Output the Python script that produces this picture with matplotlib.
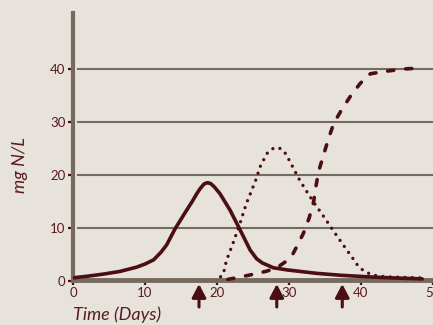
import matplotlib
matplotlib.use("Agg")
import matplotlib.pyplot as plt

# ---- data ----
solid_x = [0, 2, 4.2, 6.5, 8.8, 10, 11.2, 12.2, 13, 14.2, 15.8, 16.6, 17.2, 17.7, 18.2, 18.65,
           19.1, 19.6, 20.4, 21.8, 23.0, 24.6, 25.5, 26.3, 27.0, 27.8, 29.7, 33.8, 37, 40.8, 44, 48.5]
solid_y = [0.6, 0.9, 1.3, 1.8, 2.6, 3.2, 4.0, 5.4, 6.8, 9.9, 13.4, 15.1, 16.5, 17.5, 18.3, 18.55,
           18.4, 17.8, 16.5, 13.4, 10.2, 5.85, 4.2, 3.4, 3.0, 2.5, 2.1, 1.45, 1.1, 0.8, 0.6, 0.4]

dotted_x = [20.5, 20.9, 21.3, 22.3, 23.2, 24.1, 24.7, 25.4, 26.0, 26.9, 27.6, 28.3, 29.0,
            29.6, 30.1, 30.6, 31.1, 31.5, 32.5, 33.5, 34.6, 35.7, 36.7, 37.8, 38.9, 39.4,
            40.0, 40.8, 41.7, 42.6, 43.5, 45.5, 48.2]
dotted_y = [0.8, 1.45, 3.8, 7.4, 10.9, 14.7, 16.7, 19.1, 21.6, 24.0, 24.9, 25.2, 24.9,
            23.9, 22.6, 21.3, 20.0, 19.0, 16.8, 14.7, 12.6, 10.4, 8.4, 6.3, 4.2, 3.2,
            2.3, 1.6, 1.1, 0.9, 0.8, 0.7, 0.6]

dashed_x = [21.5, 23.4, 25.7, 27.0, 28.3, 29.7, 30.5, 31.0, 32.0, 32.8, 33.4, 33.75, 34.1,
            34.8, 35.5, 36.2, 37.3, 38.5, 39.9, 41.3, 43.6, 45.9, 48.5]
dashed_y = [0.3, 0.8, 1.45, 1.9, 2.5, 3.8, 5.0, 6.3, 9.0, 11.9, 14.8, 17.9, 20.6,
            23.8, 26.9, 29.7, 32.3, 34.8, 37.3, 39.1, 39.6, 40.0, 40.2]

arrow_days = [17.5, 28.3, 37.4]

x_ticks = [0, 10, 20, 30, 40, 50]
y_ticks = [0, 10, 20, 30, 40]
grid_levels = [10, 20, 30, 40]

x_label = "Time (Days)"
y_label = "mg N/L"

# ---- style ----
BG = "#e7e2dc"
LINE = "#4a0e13"
AXC = "#766a5f"
TXT = "#5a1c20"
FONT = ["Lato", "DejaVu Sans"]

plt.rcParams["font.family"] = FONT

fig = plt.figure(figsize=(4.33, 3.25), dpi=100)
fig.patch.set_facecolor(BG)
ax = fig.add_axes([73/433, 44/325, 360/433, 267.65/325])
ax.set_facecolor(BG)
ax.set_xlim(0, 50)
ax.set_ylim(0, 50.5)

for g in grid_levels:
    ax.axhline(g, xmin=0.013, xmax=1, color=AXC, lw=1.5, zorder=1)

for s in ["top", "right"]:
    ax.spines[s].set_visible(False)
ax.spines["left"].set_color(AXC)
ax.spines["left"].set_linewidth(3.0)
ax.spines["bottom"].set_color(AXC)
ax.spines["bottom"].set_linewidth(3.5)
ax.spines["bottom"].set_position(("data", 0.25))
ax.spines["left"].set_zorder(2)
ax.spines["bottom"].set_zorder(2)

ax.plot(solid_x, solid_y, color=LINE, lw=2.6, solid_capstyle="round",
        solid_joinstyle="round", zorder=4)
ax.plot(dotted_x, dotted_y, color=LINE, lw=2.4, linestyle=(0, (0.01, 2.2)),
        dash_capstyle="round", zorder=4)
ax.plot(dashed_x, dashed_y, color=LINE, lw=2.6, linestyle=(0, (1.7, 3.3)),
        dash_capstyle="round", zorder=4)

ax.set_xticks(x_ticks)
ax.set_yticks(y_ticks)
ax.tick_params(axis="both", direction="out", length=3.5, width=1.6, color=LINE,
               labelcolor=TXT, labelsize=9.5, pad=2.0)

for d in arrow_days:
    ax.annotate("", xy=(d, 41), xytext=(d, 18),
                xycoords=("data", "figure pixels"), textcoords=("data", "figure pixels"),
                arrowprops=dict(arrowstyle="-|>,head_length=0.8,head_width=0.42",
                                color=LINE, lw=2.2, shrinkA=0, shrinkB=0),
                annotation_clip=False)

fig.text(73/433, 1 - 315/325, x_label, ha="left", va="center", style="italic",
         fontsize=13, color=TXT)
fig.text(20/433, 1 - 165/325, y_label, ha="center", va="center", style="italic",
         rotation=90, fontsize=13, color=TXT)

fig.savefig("out.png", dpi=100, facecolor=BG)
